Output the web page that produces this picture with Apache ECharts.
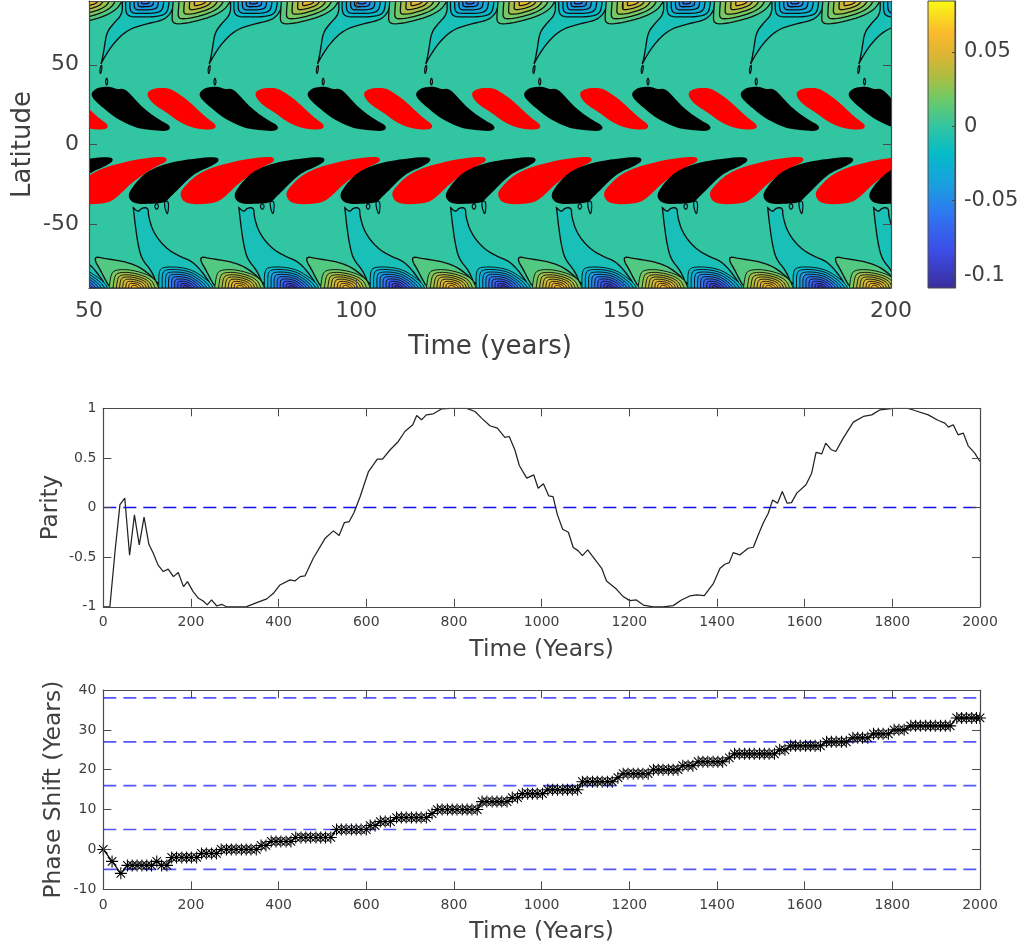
<!DOCTYPE html>
<html><head><meta charset="utf-8">
<style>html,body{margin:0;padding:0;background:#fff}#c{width:1023px;height:947px}</style>
<script src="https://cdn.jsdelivr.net/npm/echarts@6/dist/echarts.min.js"></script>
</head><body><div id="c"></div>
<script>
// ---------- colour scale (value -> colour) ----------
const colorbarValues=[-0.1087,-0.083,-0.058,-0.04,-0.018,0,0.018,0.034,0.049,0.063,0.0842];
const colorbarColors=['#3a2d9c','#3c4de8','#2f78f0','#1a9ee0','#05bcc8','#32c5a1','#6dca68','#b0bd40','#e0b433','#fbbb2c','#f9f914'];
const colorbarTicks=[-0.1,-0.05,0,0.05];
// ---------- butterfly panel: cycle onset times (years) ----------
const northBlackStart=[50.6,70.8,91,111.3,131.5,151.7,172,192.2];
const northRedStart=[40.8,61,81.2,101.5,121.7,141.9,162.2,182.4];
const southBlackStart=[37.7,57.5,77.3,97.1,116.8,136.6,156.4,176.2,196];
const southRedStart=[47.1,67.2,87,106.8,126.6,146.4,166.2,186];
const topCycleStart=[29,49.25,69.5,89.75,110,130.25,150.5,170.75,191];
const bottomCycleStart=[29.5,49.25,69,88.8,108.6,128.4,148.2,167.9,187.7];
// ---------- outlines: [years after cycle onset, latitude] ----------
const northBlackOutline=[[0,31.25],[.6,33.75],[1.56,35],[3.1,35.4],[4.7,33.75],[5.9,34.2],[7.2,30],[9,23.3],[10.9,18.1],[12.8,14],[14.5,10.8],[13.7,9.2],[11.2,10],[9,10.8],[7.2,12.9],[4.7,17.1],[2.5,22.9],[.9,27.5]];
const northRedOutline=[[0,31.25],[.75,33.75],[2.3,34.6],[3.9,34.4],[5.4,31.5],[7.3,27],[9.2,21],[11,15.5],[12.8,11.25],[11.3,10],[8.5,11.25],[6,15],[3.6,21],[1.4,25.5]];
const southBlackOutline=[[0,-32.6],[.8,-27.4],[2.7,-20.1],[4.6,-15.9],[7.7,-12.2],[11.4,-10.1],[15.8,-8.6],[16.7,-9.7],[15.2,-12.8],[12.7,-16.3],[10.8,-21.1],[9,-27.4],[7.4,-32.6],[6.5,-35.7],[3.9,-36.3],[1.1,-36.3]];
const southRedOutline=[[0,-31.5],[.75,-27.4],[2.6,-21.1],[5.1,-16.3],[8.5,-12.8],[12.9,-9.7],[16.6,-8.4],[17.4,-9.7],[15.4,-12.8],[12.9,-18],[10.4,-24.2],[7.9,-32.6],[6,-36.3],[1.1,-36.7]];
const topTail=[[6.98,90],[6.98,81.7],[5.3,75.8],[4.05,70.2],[3.62,60.8],[3.24,53.5],[2.93,50],[3.43,53.5],[4.99,61.9],[6.86,68.75],[8.73,72.9],[11.2,75.4],[14,77.5],[15.3,79.6],[16.3,83.75],[16.7,90]];
const topStreaks=[[[3.12,50.4],[3.18,47.3],[2.87,43.75],[2.74,47.3]],[[4.05,42.1],[4.3,39.4],[4.05,36.7],[3.8,39.4]]];
const topPosCell=[[16.5,90],[16.3,81.7],[16.3,76.5],[17.5,75.4],[20.6,77.1],[24,80.6],[26.2,84.8],[27.2,90]];
const topPosCentre=[21.5,90];
const topPosLevels=[.01,.02,.03,.04,.05], topPosScales=[1,.78,.58,.38,.2];
const topNegCell=[[7.6,90],[7.6,82.7],[8.4,80],[10.6,80],[13.4,80.2],[15.3,82],[15.7,88],[15.7,90]];
const topNegCentre=[11.2,90];
const topNegLevels=[-.02,-.03,-.04,-.05,-.06], topNegScales=[1,.78,.56,.36,.18];
const bottomTail=[[9.04,-39.7],[9.98,-42.4],[10.6,-39.7],[11.85,-39.7],[11.85,-44.9],[12.8,-55.3],[15,-64.7],[17.5,-69.9],[19.95,-73],[21.8,-79.3],[24,-90],[13.7,-90],[12.5,-79.3],[10.6,-72],[9.85,-61.6],[9.35,-49.1]];
const bottomStreaks=[[[13.4,-36.6],[13.84,-38.7],[13.4,-41.2],[12.97,-38.7]],[[14.8,-35.5],[15.7,-35.5],[15.5,-44.5],[15,-40.75]]];
const bottomGreen=[[2,-70.3],[1.87,-73],[2.8,-78.3],[3.74,-84.5],[4.68,-90],[14,-90],[12.8,-83.5],[10,-76.2],[6.86,-73],[3.74,-71.6]];
const bottomPosCell=[[4.5,-90],[4.86,-81.4],[5.6,-78.7],[8.1,-78.3],[11.2,-80.8],[13.1,-84.5],[13.8,-90]];
const bottomPosCentre=[9.35,-90];
const bottomPosLevels=[.02,.03,.035,.04,.045,.05,.055,.06], bottomPosScales=[1,.85,.72,.6,.48,.36,.25,.14];
const bottomNegCell=[[13.8,-90],[13.8,-79.3],[14.65,-76.8],[17.5,-76.8],[20,-78.7],[21.8,-82.4],[23.4,-86.6],[24,-90]];
const bottomNegCentre=[19,-90];
const bottomNegLevels=[-.02,-.03,-.04,-.05,-.06,-.07,-.08,-.09,-.1], bottomNegScales=[1,.88,.76,.65,.54,.43,.32,.21,.11];
// ---------- parity panel ----------
const parityTime=[0,15,27,38,49,60,71,82,93,104,114,125,137,148,160,171,183,192,205,217,228,237,247,259,270,281,304,327,350,373,388,403,426,437,449,460,479,506,525,538,550,561,572,586,605,625,637,654,673,688,706,715,726,737,753,772,791,810,829,848,863,882,899,916,926,939,949,966,982,992,1004,1016,1026,1036,1048,1061,1072,1083,1093,1105,1118,1137,1148,1171,1186,1201,1216,1232,1254,1277,1300,1319,1338,1354,1371,1392,1407,1418,1428,1437,1452,1471,1483,1494,1506,1517,1527,1538,1549,1560,1570,1582,1603,1616,1626,1639,1648,1661,1671,1688,1711,1734,1753,1772,1802,1836,1851,1882,1905,1920,1928,1939,1950,1962,1973,1988,2000];
const parityValue=[-1,-1,-.43,.03,.094,-.48,-.074,-.376,-.097,-.37,-.46,-.58,-.645,-.62,-.696,-.655,-.797,-.746,-.847,-.914,-.941,-.981,-.931,-.992,-.975,-1,-1,-.998,-.958,-.92,-.864,-.78,-.729,-.739,-.696,-.689,-.511,-.31,-.235,-.282,-.151,-.141,-.05,.111,.363,.487,.487,.58,.666,.766,.834,.928,.884,.934,.945,.995,1,1,1,.968,.901,.824,.8,.706,.716,.58,.424,.296,.329,.195,.239,.118,.111,-.074,-.218,-.249,-.403,-.434,-.484,-.427,-.501,-.612,-.74,-.824,-.897,-.938,-.931,-.982,-1,-1,-.988,-.931,-.891,-.881,-.887,-.763,-.612,-.571,-.555,-.454,-.477,-.41,-.4,-.276,-.151,-.057,.077,.044,.161,.044,.05,.145,.229,.346,.555,.541,.649,.582,.565,.699,.861,.918,.934,.985,1,1,.978,.934,.877,.85,.81,.834,.733,.75,.622,.548,.464];
const parityRefLevels=[0];
// ---------- phase shift panel: [shift, times at that shift] ----------
const phaseSteps=[[0,[0]],[-3,[20]],[-6,[40]],[-4,[55,66,77,88,99,110]],[-3,[122]],[-4,[133,145]],[-2,[156,167,179,190,201,213]],[-1,[224,235,247,258]],[0,[269,281,292,303,315,326,337,349]],[1,[360,371]],[2,[383,394,405,417,428]],[3,[439,451,462,473,485,496,507,519]],[5,[532,543,554,566,577,588,600]],[6,[609,620]],[7,[632,643,655]],[8,[669,680,691,703,714,725,737]],[9,[750]],[10,[762,773,785,796,807,819,830,841,853]],[12,[864,875,887,898,909,921]],[13,[933,945]],[14,[956,968,979,990,1002]],[15,[1014,1025,1036,1048,1059,1070,1082]],[17,[1093,1104,1116,1127,1138,1150,1161]],[18,[1174]],[19,[1186,1197,1209,1220,1231,1243]],[20,[1255,1266,1277,1289,1300,1311]],[21,[1322,1334,1345]],[22,[1357,1368,1379,1391,1402,1413]],[23,[1428]],[24,[1440,1451,1463,1474,1485,1497,1508,1519,1531]],[25,[1543,1555]],[26,[1568,1579,1590,1602,1613,1624,1636]],[27,[1650,1661,1672,1684,1695]],[28,[1710,1721,1732,1744]],[29,[1757,1768,1779,1791]],[30,[1804,1815,1827]],[31,[1842,1853,1864,1876,1887,1898,1910,1921,1932]],[33,[1947,1958,1969,1981,1992,2000]]];
const phaseRefLevels=[38,27,16,5,-5];
// ---------- labels ----------
const latitudeTicks=[-50,0,50];

const TEXT='#404040', AXIS='#4a4a4a', FONT='"DejaVu Sans",sans-serif';
function hex(c){return [1,3,5].map(i=>parseInt(c.substr(i,2),16));}
function colorAt(v){
  const V=colorbarValues,C=colorbarColors;
  if(v<=V[0])return C[0];
  for(let i=1;i<V.length;i++){ if(v<=V[i]){const f=(v-V[i-1])/(V[i]-V[i-1]),a=hex(C[i-1]),b=hex(C[i]);
    return 'rgb('+a.map((x,k)=>Math.round(x+(b[k]-x)*f)).join(',')+')';}}
  return C[C.length-1];
}
// corner cutting of an outline in screen space, to round the hand-read polygons
function rounded(pts,closed,n){
  for(let k=0;k<n;k++){
    const out=[];const m=pts.length;
    if(!closed)out.push(pts[0]);
    for(let i=0;i<(closed?m:m-1);i++){const a=pts[i],b=pts[(i+1)%m];
      out.push([a[0]*.75+b[0]*.25,a[1]*.75+b[1]*.25],[a[0]*.25+b[0]*.75,a[1]*.25+b[1]*.75]);}
    if(!closed)out.push(pts[m-1]);
    pts=out;
  }
  return pts;
}
const shapes=[];
const CONTOUR='#101010';
function addContour(t0,outline,level,scale,centre,lw,closed){shapes.push({t0,outline,scale:scale==null?1:scale,centre:centre||[0,0],fill:colorAt(level),stroke:CONTOUR,lw:lw||1.2,closed:!!closed});}
function rings(t0,outline,centre,levels,scales,lw){levels.forEach((l,i)=>addContour(t0,outline,l,scales[i],centre,lw));}
topCycleStart.forEach(t=>{
  addContour(t,topTail,-.01,1,null,1.35);
  topStreaks.forEach(o=>addContour(t,o,-.01,1,null,1.2,true));
  rings(t,topNegCell,topNegCentre,topNegLevels,topNegScales,1.3);
  rings(t,topPosCell,topPosCentre,topPosLevels,topPosScales,1.3);
});
bottomCycleStart.forEach(t=>{
  addContour(t,bottomTail,-.01,1,null,1.35);
  bottomStreaks.forEach(o=>addContour(t,o,-.01,1,null,1.2,true));
  rings(t,bottomNegCell,bottomNegCentre,bottomNegLevels,bottomNegScales,.95);
  addContour(t,bottomGreen,.01,1,null,1.35,true);
  rings(t,bottomPosCell,bottomPosCentre,bottomPosLevels,bottomPosScales,.95);
});
function addBlobs(starts,outline,col){starts.forEach(t0=>shapes.push({t0,outline,scale:1,centre:[0,0],fill:col,stroke:col,lw:3,closed:true}));}
addBlobs(northBlackStart,northBlackOutline,'#000000');
addBlobs(northRedStart,northRedOutline,'#ff0000');
addBlobs(southRedStart,southRedOutline,'#ff0000');
addBlobs(southBlackStart,southBlackOutline,'#000000');

function renderShape(params,api){
  const s=shapes[params.dataIndex];
  const pts=s.outline.map(p=>api.coord([s.t0+s.centre[0]+s.scale*(p[0]-s.centre[0]),s.centre[1]+s.scale*(p[1]-s.centre[1])]));
  return {type:'polygon',shape:{points:rounded(pts,s.closed,2)},style:{fill:s.fill,stroke:s.stroke,lineWidth:s.lw}};
}
function renderBar(params,api){
  const a=api.coord([0,colorbarValues[colorbarValues.length-1]]),b=api.coord([1,colorbarValues[0]]);
  const lo=colorbarValues[0],hi=colorbarValues[colorbarValues.length-1];
  return {type:'rect',shape:{x:a[0],y:a[1],width:b[0]-a[0],height:b[1]-a[1]},
    style:{stroke:AXIS,lineWidth:1,fill:new echarts.graphic.LinearGradient(0,1,0,0,colorbarValues.map((v,i)=>({offset:(v-lo)/(hi-lo),color:colorbarColors[i]})))}};
}
function lineStyleAxis(){return {show:true,onZero:false,lineStyle:{color:AXIS,width:1.2}};}
function tick(len){return {show:true,inside:true,length:len,lineStyle:{color:AXIS,width:1}};}
function xAxes(g,min,max,interval,name,fs,nfs,margin,gap){
  const base={type:'value',gridIndex:g,min,max,interval,z:10,splitLine:{show:false},axisLine:lineStyleAxis(),axisTick:tick(8)};
  return [Object.assign({},base,{position:'bottom',name,nameLocation:'middle',nameGap:gap,nameMoveOverlap:false,nameTextStyle:{color:TEXT,fontSize:nfs,fontFamily:FONT},
    axisLabel:{color:TEXT,fontSize:fs,fontFamily:FONT,margin,hideOverlap:false,showMinLabel:true,showMaxLabel:true,formatter:v=>String(v)}}),
    Object.assign({},base,{position:'top',axisLabel:{show:false}})];
}
function yAxes(g,min,max,interval,name,fs,nfs,margin,gap,custom,pad){
  const base={type:'value',gridIndex:g,min,max,z:10,splitLine:{show:false},axisLine:lineStyleAxis(),axisTick:tick(8)};
  if(interval)base.interval=interval;
  if(custom)base.axisTick=Object.assign(tick(8),{customValues:custom});
  const lab={color:TEXT,fontSize:fs,fontFamily:FONT,margin,padding:[pad,0,0,0],showMinLabel:true,showMaxLabel:true,formatter:v=>String(v)};
  if(custom)lab.customValues=custom;
  return [Object.assign({},base,{position:'left',name,nameLocation:'middle',nameGap:gap,nameMoveOverlap:false,nameRotate:90,nameTextStyle:{color:TEXT,fontSize:nfs,fontFamily:FONT},axisLabel:lab}),
    Object.assign({},base,{position:'right',axisLabel:{show:false}})];
}
const xA=[].concat(
  xAxes(0,50,200,50,'Time (years)',22,26,12,46),
  xAxes(1,0,2000,200,'Time (Years)',14,23.4,9,32),
  xAxes(2,0,2000,200,'Time (Years)',14,23.4,9,31),
  [{type:'value',gridIndex:3,min:0,max:1,show:false}]
);
const yA=[].concat(
  yAxes(0,-90,90,null,'Latitude',22,26,10,53,latitudeTicks,4),
  yAxes(1,-1,1,.5,'Parity',14,23,7,41,null,1),
  yAxes(2,-10,40,10,'Phase Shift (Years)',14,23.4,7,38,null,1),
  [{type:'value',gridIndex:3,position:'right',min:colorbarValues[0],max:colorbarValues[colorbarValues.length-1],z:10,
    splitLine:{show:false},axisLine:lineStyleAxis(),
    axisTick:Object.assign(tick(3),{customValues:colorbarTicks}),
    axisLabel:{color:TEXT,fontSize:21,fontFamily:FONT,margin:9,padding:[5,0,0,0],customValues:colorbarTicks,formatter:v=>String(v)}}]
);
const series=[
  {type:'custom',xAxisIndex:0,yAxisIndex:0,clip:true,renderItem:renderShape,encode:{x:0,y:1},silent:true,animation:false,
    data:shapes.map((s,i)=>[s.t0,0,i])},
  {type:'custom',xAxisIndex:6,yAxisIndex:6,renderItem:renderBar,silent:true,animation:false,encode:{x:0,y:1},data:[[0,0]]}
];
parityRefLevels.forEach(l=>series.push({type:'line',xAxisIndex:2,yAxisIndex:2,data:[[0,l],[2000,l]],showSymbol:false,silent:true,animation:false,
  lineStyle:{color:'#1010f0',width:1.5,type:[13,7]}}));
series.push({type:'line',xAxisIndex:2,yAxisIndex:2,data:parityTime.map((t,i)=>[t,parityValue[i]]),showSymbol:false,silent:true,animation:false,clip:true,
  lineStyle:{color:'#222',width:1.25}});
phaseRefLevels.forEach(l=>series.push({type:'line',xAxisIndex:4,yAxisIndex:4,data:[[0,l],[2000,l]],showSymbol:false,silent:true,animation:false,
  lineStyle:{color:'#2a2aff',width:1.7,opacity:.8,type:[13,7]}}));
const phaseData=[];phaseSteps.forEach(s=>s[1].forEach(t=>phaseData.push([t,s[0]])));
series.push({type:'line',xAxisIndex:4,yAxisIndex:4,data:phaseData,silent:true,animation:false,clip:false,
  symbol:'path://M0,-1L0,1M-1,0L1,0M-.71,-.71L.71,.71M-.71,.71L.71,-.71',symbolSize:12,showAllSymbol:true,
  itemStyle:{color:'none',borderColor:'#000',borderWidth:1.05},
  lineStyle:{color:'#000',width:1.2}});
const chart=echarts.init(document.getElementById('c'),null,{renderer:'canvas'});
chart.setOption({
  animation:false,backgroundColor:'#fff',
  grid:[
    {left:89,top:1,width:802,height:287,show:true,backgroundColor:colorAt(0),borderWidth:0},
    {left:103.3,top:408.3,width:876.7,height:198.5,show:false},
    {left:103.3,top:690,width:876.7,height:199.3,show:false},
    {left:928,top:1,width:27,height:287,show:false}
  ],
  xAxis:xA,yAxis:yA,series
});
</script></body></html>
